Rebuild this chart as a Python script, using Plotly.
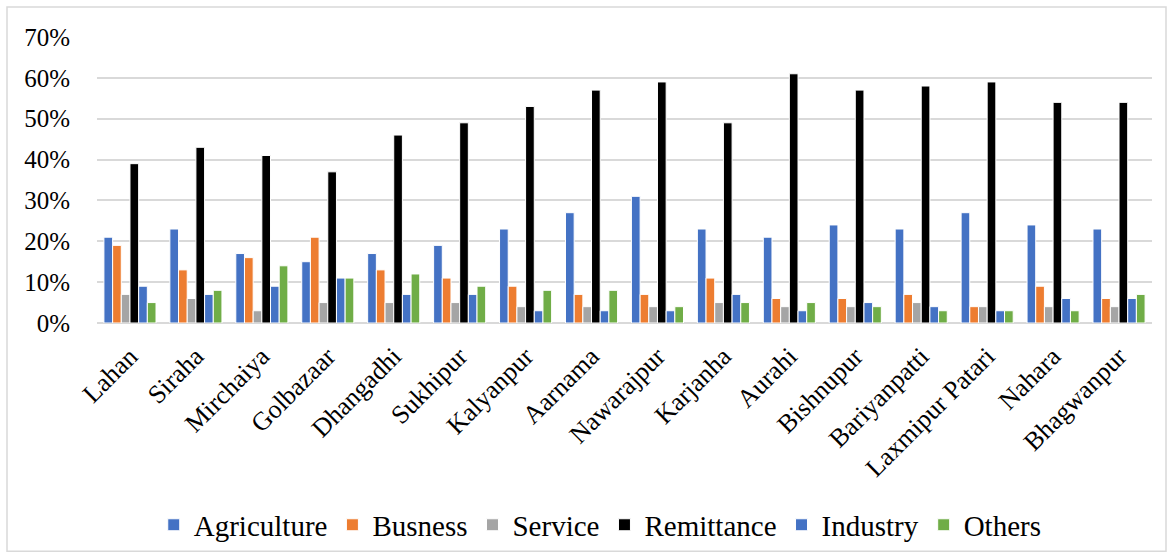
import plotly.graph_objects as go

places = ["Lahan", "Siraha", "Mirchaiya", "Golbazaar", "Dhangadhi", "Sukhipur",
          "Kalyanpur", "Aarnama", "Nawarajpur", "Karjanha", "Aurahi", "Bishnupur",
          "Bariyanpatti", "Laxmipur Patari", "Nahara", "Bhagwanpur"]

agriculture = [21, 23, 17, 15, 17, 19, 23, 27, 31, 23, 21, 24, 23, 27, 24, 23]
busness     = [19, 13, 16, 21, 13, 11, 9, 7, 7, 11, 6, 6, 7, 4, 9, 6]
service     = [7, 6, 3, 5, 5, 5, 4, 4, 4, 5, 4, 4, 5, 4, 4, 4]
remittance  = [39, 43, 41, 37, 46, 49, 53, 57, 59, 49, 61, 57, 58, 59, 54, 54]
industry    = [9, 7, 9, 11, 7, 7, 3, 3, 3, 7, 3, 5, 4, 3, 6, 6]
others      = [5, 8, 14, 11, 12, 9, 8, 8, 4, 5, 5, 4, 3, 3, 3, 7]

series = [
    ("Agriculture", agriculture, "#4472C4"),
    ("Busness", busness, "#ED7D31"),
    ("Service", service, "#A5A5A5"),
    ("Remittance", remittance, "#000000"),
    ("Industry", industry, "#4472C4"),
    ("Others", others, "#70AD47"),
]

FONT = "Liberation Serif"

fig = go.Figure()
for name, vals, color in series:
    fig.add_trace(go.Bar(
        name=name,
        x=places,
        y=[v / 100 for v in vals],
        marker=dict(color=color, line=dict(color="white", width=1)),
    ))

fig.update_layout(
    width=1173, height=560,
    barmode="group",
    bargap=0.21,
    bargroupgap=0.0,
    plot_bgcolor="white",
    paper_bgcolor="white",
    margin=dict(l=97, r=21, t=37, b=236),
    font=dict(family=FONT, size=24, color="black"),
    yaxis=dict(
        range=[0, 0.7],
        dtick=0.1,
        tickformat=".0%",
        showgrid=True,
        gridcolor="#D9D9D9",
        gridwidth=1.5,
        zeroline=True,
        zerolinecolor="#D9D9D9",
        zerolinewidth=1.5,
        ticks="",
        ticklen=0,
        tickfont=dict(family=FONT, size=25, color="black"),
        ticklabelstandoff=26,
        fixedrange=True,
    ),
    xaxis=dict(
        tickangle=-45,
        tickfont=dict(family=FONT, size=26, color="black"),
        showline=False,
        ticks="",
        ticklabelstandoff=12,
    ),
    legend=dict(
        orientation="h",
        x=0.477, xanchor="center",
        y=-0.70, yanchor="middle",
        font=dict(family=FONT, size=29, color="black"),
        itemwidth=30,
        tracegroupgap=0,
    ),
    shapes=[dict(
        type="rect", xref="paper", yref="paper",
        x0=(7 - 97) / 1055, x1=(1166 - 97) / 1055,
        y0=(324 - 553) / 287, y1=(324 - 7) / 287,
        line=dict(color="#D9D9D9", width=1.5),
        fillcolor="rgba(0,0,0,0)",
        layer="below",
    )],
)

fig.write_html("out.html")
